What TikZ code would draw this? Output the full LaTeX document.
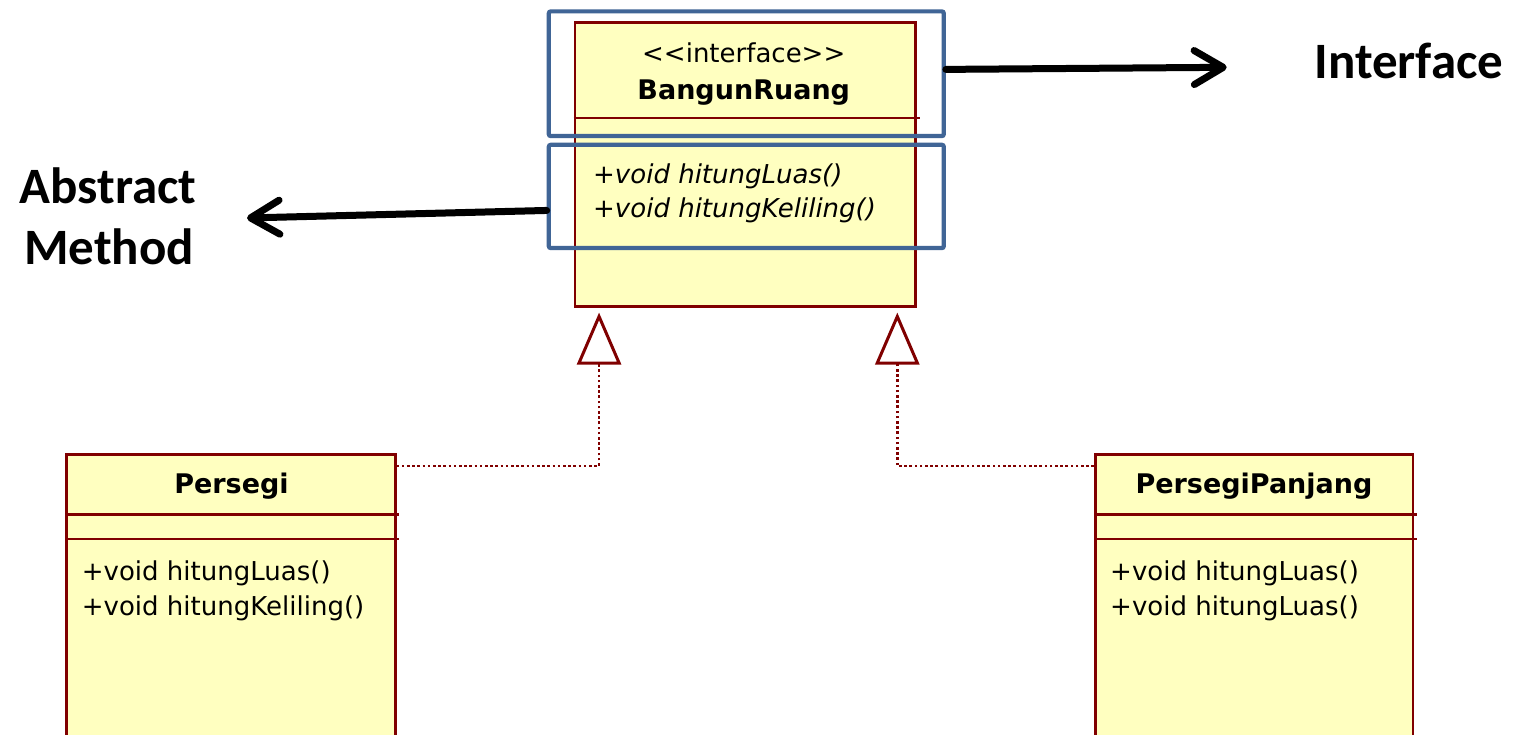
\documentclass[tikz,border=0pt]{standalone}
\usepackage{fontspec}
\newfontfamily\umlfont{DejaVu Sans}
\newfontfamily\notefont{Carlito}
\usetikzlibrary{arrows.meta,calc}
\definecolor{umlfill}{RGB}{255,255,192}
\definecolor{umlline}{RGB}{128,0,0}
\definecolor{hiblue}{RGB}{64,101,150}

\begin{document}
\begin{tikzpicture}[x=1pt,y=-1pt,
  classbox/.style={draw=umlline, fill=umlfill, line width=2.6pt, inner sep=0pt, anchor=north west},
  divider/.style={draw=umlline, line width=2.6pt},
  hibox/.style={draw=hiblue, line width=4.2pt, rounded corners=2pt, inner sep=0pt, anchor=north west},
  uml/.style={font=\umlfont\fontsize{26pt}{34pt}\selectfont, inner sep=0pt},
  umlital/.style={font=\umlfont\itshape\fontsize{26pt}{34pt}\selectfont, inner sep=0pt},
  umlbold/.style={font=\umlfont\bfseries\fontsize{27pt}{34pt}\selectfont, inner sep=0pt, anchor=base},
  note/.style={font=\notefont\bfseries\fontsize{51pt}{58pt}\selectfont, inner sep=0pt, anchor=base},
  pointer/.style={line width=7pt, line cap=round,
    -{Straight Barb[length=29pt,width=34pt,round]},
    preaction={draw=black!45, opacity=0.3, transform canvas={shift={(1.5pt,-3pt)}}}},
  realize/.style={draw=umlline, line width=2.6pt, dash pattern=on 2.6pt off 2.6pt,
    -{Triangle[open, length=52pt, width=44pt, line width=3pt, fill=white]}}
]
\useasboundingbox (0,0) rectangle (1522,735);
\fill[white] (0,0) rectangle (1522,735);
\clip (0,0) rectangle (1522,735);

% interface BangunRuang
\node[classbox, minimum width=340.5pt, minimum height=283.5pt] (br) at (573.5,21.5) {};
\draw[divider] ($(br.north west)+(0,96.5)$) -- ($(br.north east)+(3,96.5)$);
\node[uml, anchor=base] (stereo) at (743.75,62.7) {<<interface>>};
\node[umlbold] (brname) at (743.75,100) {BangunRuang};
\node[umlital, anchor=base west] (m1) at (593,184) {+void hitungLuas()};
\node[umlital, anchor=base west] (m2) at (593,218) {+void hitungKeliling()};

% highlight frames
\node[hibox, minimum width=395pt, minimum height=124.7pt] (ifbox) at (546.7,9.3) {};
\node[hibox, minimum width=395pt, minimum height=103.3pt] (mbox) at (546.7,142.7) {};

% callout labels
\node[note] (iflabel) at (1409,79) {Interface};
\node[note] (amA) at (108,204) {Abstract};
\node[note] (amB) at (109,265) {Method};

\coordinate (ifTip) at (1226.7,67.3);
\coordinate (amTip) at (247,218);
\draw[pointer] ([yshift=4.35pt]ifbox.east) -- (ifTip);
\draw[pointer] ([yshift=-14pt]mbox.west) -- (amTip);

% class Persegi
\node[classbox, minimum width=329pt, minimum height=300pt] (persegi) at (65,453) {};
\draw[divider] ($(persegi.north west)+(0,61.7)$) -- ($(persegi.north east)+(2.5,61.7)$);
\draw[divider] ($(persegi.north west)+(0,86)$) -- ($(persegi.north east)+(2.5,86)$);
\node[umlbold] (pname) at (231.5,493) {Persegi};
\node[uml, anchor=base west] (p1) at (81.7,580) {+void hitungLuas()};
\node[uml, anchor=base west] (p2) at (81.7,615) {+void hitungKeliling()};

% class PersegiPanjang
\node[classbox, minimum width=317.7pt, minimum height=300pt] (pp) at (1094,453) {};
\draw[divider] ($(pp.north west)+(0,61.7)$) -- ($(pp.north east)+(2.5,61.7)$);
\draw[divider] ($(pp.north west)+(0,86)$) -- ($(pp.north east)+(2.5,86)$);
\node[umlbold] (ppname) at (1254,493) {PersegiPanjang};
\node[uml, anchor=base west] (pp1) at (1110,580) {+void hitungLuas()};
\node[uml, anchor=base west] (pp2) at (1110,615) {+void hitungLuas()};

% realizations
\draw[realize] ([yshift=-13pt]persegi.north east) -| ($(br.south)+(-146,5)$);
\draw[realize] ([yshift=-13pt]pp.north west) -| ($(br.south)+(152.25,5)$);
\end{tikzpicture}
\end{document}
